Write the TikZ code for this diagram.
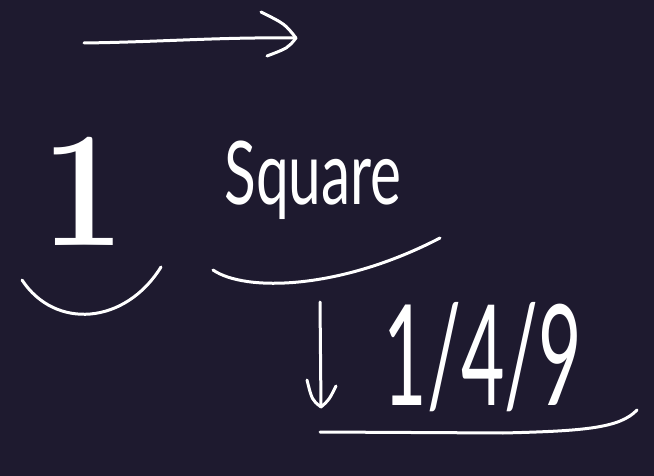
\documentclass[tikz,border=0pt]{standalone}
\usepackage{fontspec}
\newfontfamily\hand{Lato}
\definecolor{bg}{HTML}{1E1A2F}
\begin{document}
\begin{tikzpicture}[x=1pt,y=-1pt,
  ink/.style={draw=white,line width=3pt,line cap=round,line join=round},
  lbl/.style={text=white,inner sep=0pt,anchor=base}]
\fill[bg] (0,0) rectangle (654,476);
\useasboundingbox (0,0) rectangle (654,476);
% top arrow
\coordinate (ta) at (84,43);
\coordinate (tb) at (296,38);
\draw[ink] (ta) .. controls (160,42) and (220,37) .. (tb);
\draw[ink] (261,12) .. controls (285,24) .. (tb) .. controls (288,48) .. (267,56);
% labels
\node[lbl] (one) at (83,245) {\scalebox{0.9}[1]{\fontsize{165}{165}\selectfont\bfseries 1}};
\node[lbl] (sq) at (313,205) {\scalebox{0.9}[1.35]{\fontsize{65}{65}\selectfont\hand Square}};
\node[lbl] (frac) at (483,405) {\scalebox{0.75}[1.4]{\fontsize{100}{100}\selectfont\hand 1/4/9}};
% underline arcs
\draw[ink] (22,280) .. controls (55,330) and (125,325) .. (161,267);
\draw[ink] (213,270) .. controls (245,292) and (340,290) .. (440,238);
% down arrow
\coordinate (da) at (320,302);
\coordinate (db) at (321,407);
\draw[ink] (da) -- (db);
\draw[ink] (307,380) .. controls (312,400) .. (db) .. controls (329,400) .. (336,386);
% bottom line
\coordinate (ba) at (320,432);
\coordinate (bb) at (637,410);
\draw[ink] (ba) -- (503,433) .. controls (585,431) and (620,428) .. (bb);
\end{tikzpicture}
\end{document}
